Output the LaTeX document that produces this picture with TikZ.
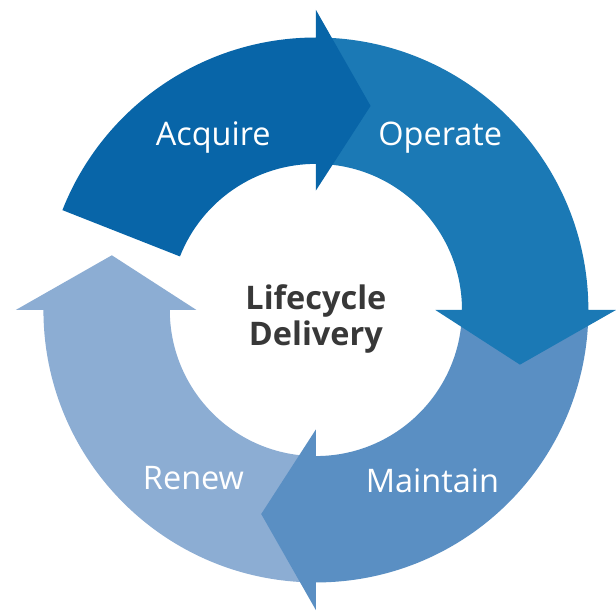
\documentclass[tikz,border=0pt]{standalone}
\usepackage{fontspec}
\setmainfont{Open Sans}
\usepackage{tikz}

\definecolor{acquireblue}{HTML}{0865A8}
\definecolor{operateblue}{HTML}{1B79B5}
\definecolor{maintainblue}{HTML}{5A8FC3}
\definecolor{renewblue}{HTML}{8CADD3}

\begin{document}
\begin{tikzpicture}[x=1bp,y=1bp,
    seglabel/.style={white,font=\fontsize{33}{40}\selectfont,anchor=base},
    hublabel/.style={black!78,font=\bfseries\fontsize{33}{40}\selectfont,anchor=base}]
    % Canvas
    \fill[white] (-320,-299) rectangle (296,314);

    % Arrow segments, back to front
    \foreach \a/\b/\c in {-90/-180/renewblue,0/-90/maintainblue,90/0/operateblue,158.5/90/acquireblue}
        \fill[\c] (\a:276) arc[start angle=\a, end angle=\b, radius=276]
            -- (\b:304) -- ({\b-15}:214) -- (\b:121) -- (\b:148)
            arc[start angle=\b, end angle=\a, radius=148] -- cycle;

    % Segment labels
    \node[seglabel] (acquire) at (-104,167) {Acquire};
    \node[seglabel] (operate) at (126,167) {Operate};
    \node[seglabel] (maintain) at (118,-185) {Maintain};
    \node[seglabel] (renew) at (-124,-182) {Renew};

    % Hub
    \node[hublabel] (lifecycle) at (0,0) {Lifecycle};
    \node[hublabel] (delivery) at (0,-36) {Delivery};
\end{tikzpicture}
\end{document}
